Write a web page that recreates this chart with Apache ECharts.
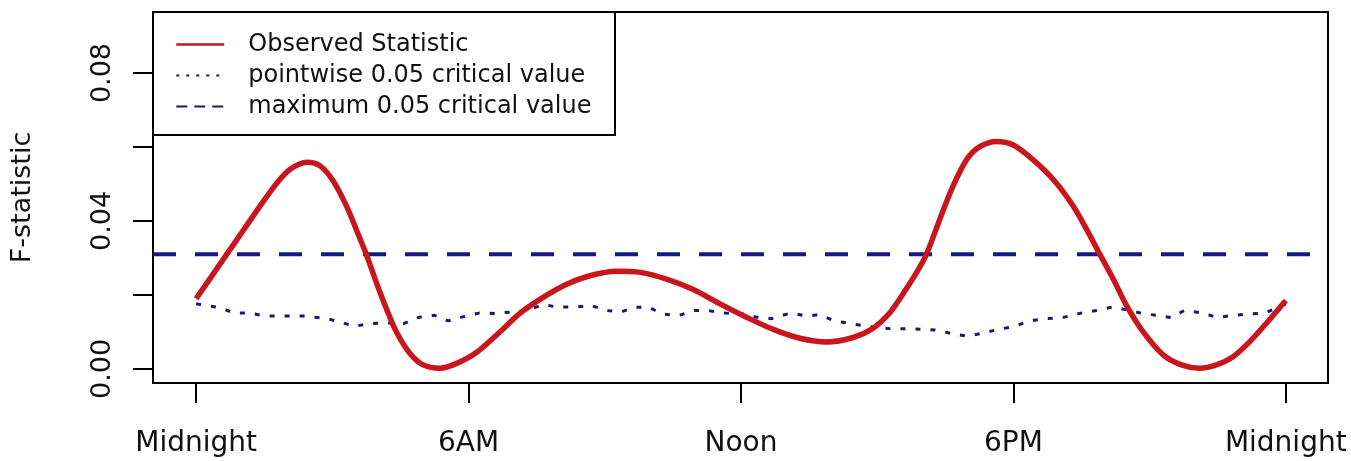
<!DOCTYPE html>
<html>
<head>
<meta charset="utf-8">
<script src="https://cdn.jsdelivr.net/npm/echarts@6/dist/echarts.min.js"></script>
<style>
html,body{margin:0;padding:0;background:#fff;}
#chart{width:1351px;height:461px;}
</style>
</head>
<body>
<div id="chart"></div>
<script>
// ---- data ----
const xTickValues = [0, 6, 12, 18, 24];
const xTickLabels = ['Midnight', '6AM', 'Noon', '6PM', 'Midnight'];
const yTickValues = [0, 0.02, 0.04, 0.06, 0.08];
const yLabelValues = [0, 0.04, 0.08];

const obsHours = [0, 0.31, 0.68, 1.04, 1.41, 1.78, 2.07, 2.44, 2.73, 3.02, 3.32, 3.54, 3.76, 3.98, 4.2, 4.42, 4.71, 5.0, 5.37, 5.74, 6.18, 6.69, 7.13, 7.65, 8.16, 8.67, 9.26, 9.78, 10.36, 10.95, 11.54, 12.12, 12.71, 13.3, 13.89, 14.47, 14.91, 15.28, 15.5, 15.87, 16.09, 16.38, 16.67, 16.97, 17.26, 17.63, 17.99, 18.43, 18.88, 19.32, 19.61, 19.9, 20.2, 20.49, 20.86, 21.3, 21.7, 22.1, 22.47, 22.84, 23.2, 23.57, 24];
const obsValues = [0.0190, 0.0245, 0.0311, 0.0375, 0.0441, 0.0503, 0.0540, 0.0559, 0.0549, 0.0508, 0.0438, 0.0373, 0.0306, 0.0230, 0.0160, 0.0098, 0.0042, 0.0011, 0.0002, 0.0015, 0.0045, 0.0100, 0.0150, 0.0194, 0.0229, 0.0252, 0.0264, 0.0261, 0.0243, 0.0215, 0.0176, 0.0140, 0.0107, 0.0083, 0.0073, 0.0085, 0.0110, 0.0152, 0.0190, 0.0261, 0.0311, 0.0405, 0.0494, 0.0566, 0.0601, 0.0615, 0.0606, 0.0566, 0.0512, 0.0440, 0.0378, 0.0311, 0.0243, 0.0172, 0.0100, 0.0038, 0.0011, 0.0002, 0.0011, 0.0033, 0.0073, 0.0123, 0.0185];

const pwHours = [0, 0.47, 0.85, 1.19, 1.53, 1.86, 2.37, 2.88, 3.18, 3.47, 3.86, 4.24, 4.58, 4.92, 5.25, 5.55, 5.85, 6.23, 6.57, 6.95, 7.29, 7.63, 7.97, 8.39, 8.69, 9.03, 9.36, 9.66, 9.96, 10.3, 10.64, 10.97, 11.31, 11.65, 12.0, 12.34, 12.67, 13.09, 13.47, 13.73, 14.06, 14.48, 14.9, 15.28, 15.62, 15.96, 16.29, 16.63, 16.97, 17.31, 17.6, 18.02, 18.36, 18.74, 19.12, 19.49, 19.83, 20.17, 20.5, 20.84, 21.14, 21.47, 21.77, 22.19, 22.48, 22.86, 23.16, 23.54, 24];
const pwValues = [0.0176, 0.0167, 0.0151, 0.0151, 0.0143, 0.0143, 0.0143, 0.0136, 0.0127, 0.0115, 0.0123, 0.0124, 0.0123, 0.0140, 0.0145, 0.0130, 0.0140, 0.0151, 0.0150, 0.0154, 0.0158, 0.0174, 0.0167, 0.0168, 0.0172, 0.0158, 0.0154, 0.0167, 0.0167, 0.0148, 0.0145, 0.0158, 0.0157, 0.0151, 0.0150, 0.0140, 0.0136, 0.0151, 0.0143, 0.0147, 0.0130, 0.0121, 0.0114, 0.0109, 0.0109, 0.0107, 0.0105, 0.0096, 0.0089, 0.0096, 0.0105, 0.0115, 0.0130, 0.0136, 0.0140, 0.0151, 0.0158, 0.0167, 0.0160, 0.0150, 0.0145, 0.0139, 0.0158, 0.0151, 0.0139, 0.0145, 0.0148, 0.0151, 0.0176];

const maxCritical = 0.031;
const X_MIN = -0.95, X_MAX = 24.93;
const Y_MIN = -0.0038, Y_MAX = 0.0965;

const seriesNames = ['Observed Statistic', 'pointwise 0.05 critical value', 'maximum 0.05 critical value'];

// ---- chart ----
const FONT = 'DejaVu Sans';
const RED = '#c8161c';
const NAVY = '#17177f';
const chart = echarts.init(document.getElementById('chart'), null, {renderer: 'canvas'});

const zip = (xs, ys) => xs.map((x, i) => [x, ys[i]]);

chart.setOption({
  animation: false,
  backgroundColor: '#fff',
  grid: {left: 153, top: 12, right: 23, bottom: 78, show: true, borderColor: '#000', borderWidth: 2, backgroundColor: 'transparent'},
  legend: {
    left: 175, top: 29, orient: 'vertical', padding: 0, itemGap: 0,
    itemWidth: 48, itemHeight: 14,
    data: [
      {name: seriesNames[0], lineStyle: {width: 2.5, type: 'solid'}},
      {name: seriesNames[1], lineStyle: {width: 2, type: [3, 7]}},
      {name: seriesNames[2], lineStyle: {width: 2, type: [11, 7]}}
    ],
    itemStyle: {opacity: 0},
    textStyle: {fontFamily: FONT, fontSize: 24, color: '#111', lineHeight: 31, padding: [0, 0, 0, 19]}
  },
  graphic: [{
    type: 'rect', shape: {x: 153, y: 12, width: 462, height: 123},
    style: {fill: 'none', stroke: '#000', lineWidth: 2}, z: 10, silent: true
  }],
  xAxis: {
    type: 'value', min: X_MIN, max: X_MAX,
    axisLine: {show: false, onZero: false},
    splitLine: {show: false},
    axisTick: {show: true, inside: false, length: 20, lineStyle: {color: '#000', width: 2}, customValues: xTickValues},
    axisLabel: {
      customValues: xTickValues, margin: 47, verticalAlign: 'top',
      fontFamily: FONT, fontSize: 28, color: '#111',
      formatter: v => xTickLabels[xTickValues.indexOf(v)]
    }
  },
  yAxis: {
    type: 'value', min: Y_MIN, max: Y_MAX,
    name: 'F-statistic', nameLocation: 'middle', nameRotate: 90, nameGap: 117,
    nameTextStyle: {fontFamily: FONT, fontSize: 27, color: '#111'},
    axisLine: {show: false, onZero: false},
    splitLine: {show: false},
    axisTick: {show: true, inside: false, length: 20, lineStyle: {color: '#000', width: 2}, customValues: yTickValues},
    axisLabel: {
      customValues: yLabelValues, rotate: 90, margin: 37,
      fontFamily: FONT, fontSize: 27, color: '#111',
      formatter: v => v.toFixed(2)
    }
  },
  series: [
    {
      name: seriesNames[0], type: 'line', symbol: 'none', smooth: 0.3,
      data: zip(obsHours, obsValues),
      lineStyle: {color: RED, width: 5.5}, itemStyle: {color: RED}, z: 3
    },
    {
      name: seriesNames[1], type: 'line', symbol: 'none',
      data: zip(pwHours, pwValues),
      lineStyle: {color: NAVY, width: 3, type: [5, 10], cap: 'butt'}, itemStyle: {color: NAVY}, z: 2
    },
    {
      name: seriesNames[2], type: 'line', symbol: 'none',
      data: [[X_MIN, maxCritical], [X_MAX, maxCritical]],
      lineStyle: {color: NAVY, width: 4, type: [23, 19], cap: 'butt'}, itemStyle: {color: NAVY}, z: 2
    }
  ]
});
</script>
</body>
</html>
